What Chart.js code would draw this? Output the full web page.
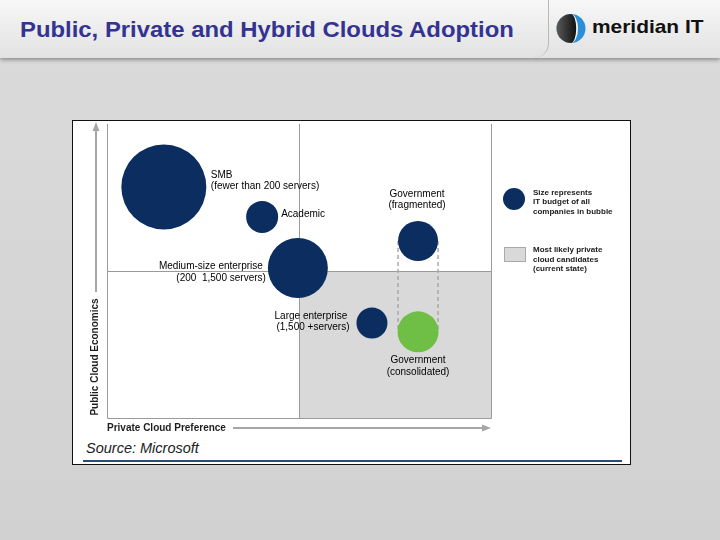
<!DOCTYPE html>
<html>
<head>
<meta charset="utf-8">
<script src="https://cdn.jsdelivr.net/npm/chart.js@4.4.0/dist/chart.umd.min.js"></script>
<style>
  html, body { margin: 0; padding: 0; }
  body {
    width: 720px; height: 540px; position: relative; overflow: hidden;
    background: linear-gradient(#dbdbdb, #d1d1d1);
    font-family: 'Liberation Sans', Arial, sans-serif;
  }
  #header {
    position: absolute; left: 0; top: 0; width: 720px; height: 58px;
    background: linear-gradient(#f7f7f7, #e2e2e2);
    box-shadow: 0 2px 4px rgba(0, 0, 0, 0.35);
  }
  #sep {
    position: absolute; left: 534px; top: 0; width: 14px; height: 58px;
    border-right: 1px solid #b8b8b8; border-radius: 0 0 30px 0;
  }
  #title {
    position: absolute; left: 20px; top: 17px; font-size: 22px; line-height: 26px;
    font-weight: bold; color: #333392; white-space: nowrap;
    transform: scaleX(1.085); transform-origin: left top;
  }
  #logo { position: absolute; left: 556px; top: 13px; }
  #brand {
    position: absolute; left: 592px; top: 16px; font-size: 19px; line-height: 22px;
    font-weight: bold; color: #111; white-space: nowrap;
    transform: scaleX(1.1); transform-origin: left top;
  }
  #box {
    position: absolute; left: 72px; top: 120px; width: 559px; height: 345px;
    box-sizing: border-box; border: 1px solid #111; background: #fff;
  }
  #rule { position: absolute; left: 83px; top: 460px; width: 539px; height: 2px; background: #2c4a77; }
  #source {
    position: absolute; left: 86px; top: 440px; font-size: 14.5px; line-height: 17px;
    font-style: italic; color: #222; white-space: nowrap;
  }
  #chart { position: absolute; left: 0; top: 0; }
</style>
</head>
<body>
<div id="header">
  <div id="sep"></div>
  <div id="title">Public, Private and Hybrid Clouds Adoption</div>
  <svg id="logo" width="30" height="31" viewBox="0 0 30 31">
    <defs>
      <linearGradient id="dk" x1="0" x2="1"><stop offset="0" stop-color="#5a5a5a"/><stop offset="1" stop-color="#111"/></linearGradient>
    </defs>
    <circle cx="15" cy="15.5" r="14.5" fill="#2a8fd6"/>
    <path d="M15 1 A14.5 14.5 0 0 0 15 30 A7 14.5 0 0 0 15 1 Z" fill="#f4f4f4"/>
    <path d="M15 1 A14.5 14.5 0 0 0 15 30 A5.2 14.5 0 0 0 15 1 Z" fill="url(#dk)"/>
  </svg>
  <div id="brand">meridian IT</div>
</div>
<div id="box"></div>
<div id="rule"></div>
<div id="source">Source: Microsoft</div>
<canvas id="chart" width="720" height="540"></canvas>

<script>
// segments de mercat i la seva posicio (preferencia privada / economia publica)
const segments = ['SMB', 'Academic', 'Medium-size enterprise', 'Government (fragmented)', 'Large enterprise', 'Government (consolidated)'];
const preference = [14.8, 40.4, 49.7, 81.0, 69.0, 81.0];
const economics = [78.6, 68.4, 51.0, 60.2, 32.3, 29.3];
// pressupost IT (radi de la bombolla)
const budget = [42.5, 16, 30, 20, 15.5, 20.5];
const labelLines = [
  ['SMB', '(fewer than 200 servers)'],
  ['Academic'],
  ['Medium-size enterprise', '(200  1,500 servers)'],
  ['Government', '(fragmented)'],
  ['Large enterprise', '(1,500 +servers)'],
  ['Government', '(consolidated)']
];
const splitPreference = 50;
const splitEconomics = 50;
const axisX = 'Private Cloud Preference';
const axisY = 'Public Cloud Economics';
const legendBubble = ['Size represents', 'IT budget of all', 'companies in bubble'];
const legendArea = ['Most likely private', 'cloud candidates', '(current state)'];

// estil
const navy = '#0c2d5f';
const green = '#6fbe45';
const bubbleColors = segments.map((s, i) => i === 5 ? green : navy);
const labelLayout = [
  { align: 'left', dx: [47, 47], dy: [-12, -0.5] },
  { align: 'left', dx: [19], dy: [-3] },
  { align: 'right', dx: [-35, -32], dy: [-2, 10] },
  { align: 'center', dx: [-1, -1], dy: [-47, -36] },
  { align: 'center', dx: [-61, -59], dy: [-6.5, 4] },
  { align: 'center', dx: [0, 0], dy: [28, 40] }
];
const FONT = "'Liberation Sans', Arial, sans-serif";

const decor = {
  id: 'decor',
  beforeDatasetsDraw(chart) {
    const { ctx, chartArea: a, scales: { x, y } } = chart;
    const sx = x.getPixelForValue(splitPreference);
    const sy = y.getPixelForValue(splitEconomics);
    ctx.save();
    // zona de candidats a nuvol privat
    ctx.fillStyle = '#d9d9d9';
    ctx.fillRect(sx, sy, a.right - sx, a.bottom - sy);
    ctx.strokeStyle = '#9a9a9a';
    ctx.lineWidth = 1;
    ctx.beginPath();
    ctx.moveTo(a.left + 0.5, a.top); ctx.lineTo(a.left + 0.5, a.bottom + 0.5);
    ctx.lineTo(a.right + 0.5, a.bottom + 0.5); ctx.lineTo(a.right + 0.5, a.top);
    ctx.moveTo(Math.round(sx) + 0.5, a.top); ctx.lineTo(Math.round(sx) + 0.5, a.bottom);
    ctx.moveTo(a.left, Math.round(sy) + 0.5); ctx.lineTo(a.right, Math.round(sy) + 0.5);
    ctx.stroke();
    // linies discontinues entre govern fragmentat i consolidat
    const pts = chart.getDatasetMeta(0).data;
    const p1 = pts[3], p2 = pts[5];
    const r = budget[3];
    ctx.strokeStyle = '#a8a8a8';
    ctx.lineWidth = 1.5;
    ctx.setLineDash([4, 3]);
    ctx.beginPath();
    ctx.moveTo(p1.x - r, p1.y); ctx.lineTo(p2.x - r, p2.y);
    ctx.moveTo(p1.x + r, p1.y); ctx.lineTo(p2.x + r, p2.y);
    ctx.stroke();
    ctx.setLineDash([]);
    // fletxes dels eixos
    ctx.strokeStyle = '#a6a6a6';
    ctx.fillStyle = '#a6a6a6';
    ctx.lineWidth = 2;
    ctx.beginPath();
    ctx.moveTo(96, 292); ctx.lineTo(96, 129);
    ctx.moveTo(233, 428); ctx.lineTo(486, 428);
    ctx.stroke();
    ctx.beginPath();
    ctx.moveTo(96, 122); ctx.lineTo(92.5, 131); ctx.lineTo(99.5, 131); ctx.closePath();
    ctx.moveTo(491, 428); ctx.lineTo(482, 424.5); ctx.lineTo(482, 431.5); ctx.closePath();
    ctx.fill();
    ctx.fillStyle = '#1e1e1e';
    ctx.font = 'bold 10px ' + FONT;
    ctx.textBaseline = 'middle';
    ctx.textAlign = 'left';
    ctx.fillText(axisX, 107, 428);
    ctx.translate(95, 357);
    ctx.rotate(-Math.PI / 2);
    ctx.textAlign = 'center';
    ctx.fillText(axisY, 0, 0);
    ctx.restore();
  },
  afterDatasetsDraw(chart) {
    const { ctx } = chart;
    const pts = chart.getDatasetMeta(0).data;
    ctx.save();
    ctx.fillStyle = '#000';
    ctx.font = '10px ' + FONT;
    ctx.textBaseline = 'middle';
    labelLines.forEach((lines, i) => {
      const l = labelLayout[i];
      ctx.textAlign = l.align;
      lines.forEach((t, j) => ctx.fillText(t, pts[i].x + l.dx[j], pts[i].y + l.dy[j]));
    });
    // llegenda
    ctx.fillStyle = navy;
    ctx.beginPath();
    ctx.arc(514, 199, 11, 0, Math.PI * 2);
    ctx.fill();
    ctx.fillStyle = '#d9d9d9';
    ctx.fillRect(504, 247, 22, 15);
    ctx.strokeStyle = '#aaa';
    ctx.lineWidth = 1;
    ctx.strokeRect(504.5, 247.5, 21, 14);
    ctx.fillStyle = '#1a1a1a';
    ctx.font = 'bold 8px ' + FONT;
    ctx.textAlign = 'left';
    legendBubble.forEach((t, j) => ctx.fillText(t, 533, 192.5 + j * 9.6));
    legendArea.forEach((t, j) => ctx.fillText(t, 533, 250 + j * 9.6));
    ctx.restore();
  }
};

const chart = new Chart(document.getElementById('chart'), {
  type: 'bubble',
  data: {
    datasets: [{
      data: segments.map((s, i) => ({ x: preference[i], y: economics[i], r: budget[i] })),
      backgroundColor: bubbleColors,
      borderWidth: 0,
      hoverRadius: 0,
      hoverBorderWidth: 0,
      clip: false
    }]
  },
  options: {
    responsive: false,
    animation: false,
    events: [],
    layout: { autoPadding: false, padding: { left: 107, right: 229, top: 124, bottom: 122 } },
    plugins: { legend: { display: false }, tooltip: { enabled: false } },
    scales: {
      x: { display: false, min: 0, max: 100 },
      y: { display: false, min: 0, max: 100 }
    }
  },
  plugins: [decor]
});
</script>
</body>
</html>
